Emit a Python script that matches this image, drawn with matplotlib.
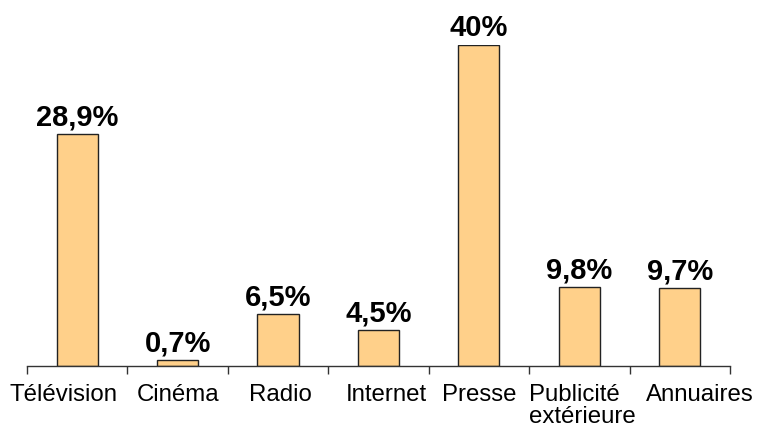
import numpy as np
import matplotlib.pyplot as plt
from matplotlib.transforms import ScaledTranslation

plt.rcParams['font.family'] = ['Liberation Sans', 'DejaVu Sans']

# data
categories = ["Télévision", "Cinéma", "Radio", "Internet", "Presse",
              "Publicité\nextérieure", "Annuaires"]
values = [28.9, 0.7, 6.5, 4.5, 40, 9.8, 9.7]
labels = ["28,9%", "0,7%", "6,5%", "4,5%", "40%", "9,8%", "9,7%"]

# horizontal nudges (px) for the category labels, like the original layout
label_shift = [-14, 0, 2, 8, 0, 3, 20]

fig = plt.figure(figsize=(7.58, 4.32), dpi=100)
ax = fig.add_axes([0.0356, 0.1528, 0.9274, 0.743])

x = np.arange(len(categories))
bars = ax.bar(x, values, width=0.41, color='#FFD08A', edgecolor='#222222', linewidth=1)

for xi, v, lab in zip(x, values, labels):
    ax.annotate(lab, (xi, v), xytext=(0, 2), textcoords='offset points',
                ha='center', va='bottom', fontsize=21, fontweight='bold',
                annotation_clip=False)

ax.set_xlim(-0.5, len(categories) - 0.5)
ax.set_ylim(0, 40)

# category labels centred, tick marks between categories
ax.set_xticks(x)
ticklabels = ax.set_xticklabels(categories, fontsize=17.3, va='top', linespacing=1.0)
ax.tick_params(axis='x', which='major', length=0, pad=13)
for t, dx in zip(ticklabels, label_shift):
    t.set_transform(t.get_transform() + ScaledTranslation(dx / 100, 0, fig.dpi_scale_trans))
ticklabels[5].set_multialignment('left')
ax.set_xticks(np.arange(-0.5, len(categories)), minor=True)
ax.tick_params(axis='x', which='minor', length=6, width=1, color='#333333', direction='out')

ax.set_yticks([])
for side in ['top', 'right', 'left']:
    ax.spines[side].set_visible(False)
ax.spines['bottom'].set_color('#333333')
ax.spines['bottom'].set_linewidth(1)

plt.savefig("out.png", dpi=100)
